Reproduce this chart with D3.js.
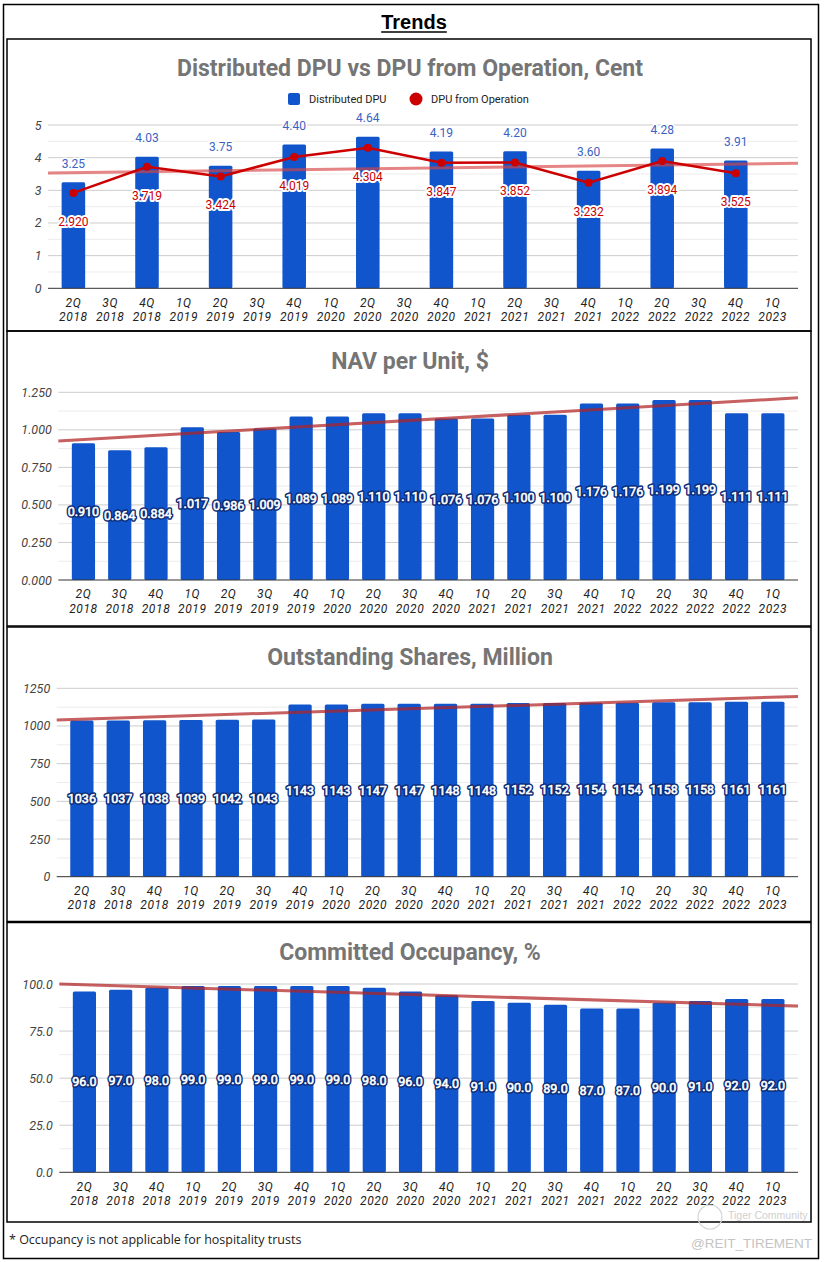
<!DOCTYPE html>
<html>
<head>
<meta charset="utf-8">
<script src="https://cdn.jsdelivr.net/npm/d3@7"></script>
<style>
  body { margin: 0; background: #fff; }
  svg { display: block; }
</style>
</head>
<body>
<script>
// quarters on the x axis, "2Q 2018" is split into two lines
const quarters = ["2Q 2018", "3Q 2018", "4Q 2018", "1Q 2019", "2Q 2019", "3Q 2019", "4Q 2019", "1Q 2020",
  "2Q 2020", "3Q 2020", "4Q 2020", "1Q 2021", "2Q 2021", "3Q 2021", "4Q 2021", "1Q 2022",
  "2Q 2022", "3Q 2022", "4Q 2022", "1Q 2023"];

// DPU is only reported every half year
const distributedDpu = [3.25, null, 4.03, null, 3.75, null, 4.40, null, 4.64, null,
  4.19, null, 4.20, null, 3.60, null, 4.28, null, 3.91, null];
const dpuFromOperation = [2.920, null, 3.719, null, 3.424, null, 4.019, null, 4.304, null,
  3.847, null, 3.852, null, 3.232, null, 3.894, null, 3.525, null];

const navPerUnit = [0.910, 0.864, 0.884, 1.017, 0.986, 1.009, 1.089, 1.089, 1.110, 1.110,
  1.076, 1.076, 1.100, 1.100, 1.176, 1.176, 1.199, 1.199, 1.111, 1.111];
const outstandingShares = [1036, 1037, 1038, 1039, 1042, 1043, 1143, 1143, 1147, 1147,
  1148, 1148, 1152, 1152, 1154, 1154, 1158, 1158, 1161, 1161];
const committedOccupancy = [96.0, 97.0, 98.0, 99.0, 99.0, 99.0, 99.0, 99.0, 98.0, 96.0,
  94.0, 91.0, 90.0, 89.0, 87.0, 87.0, 90.0, 91.0, 92.0, 92.0];

const dpuTicks = [0, 1, 2, 3, 4, 5];
const navTicks = [0, 0.25, 0.5, 0.75, 1.0, 1.25];
const shareTicks = [0, 250, 500, 750, 1000, 1250];
const occupancyTicks = [0, 25, 50, 75, 100];

const chartTitles = ["Distributed DPU vs DPU from Operation, Cent", "NAV per Unit, $",
  "Outstanding Shares, Million", "Committed Occupancy, %"];
const legendNames = ["Distributed DPU", "DPU from Operation"];

const BAR = "#1155cc";
const W = 827, H = 1262;

const svg = d3.select("body").append("svg").attr("width", W).attr("height", H);
svg.append("rect").attr("width", W).attr("height", H).attr("fill", "#fff");

// outer frame and heading
svg.append("rect").attr("x", 3.5).attr("y", 4.5).attr("width", 815).attr("height", 1254)
  .attr("fill", "none").attr("stroke", "#000").attr("stroke-width", 1.5);

let heading = svg.append("text").text("Trends")
  .attr("x", 414).attr("y", 29).attr("text-anchor", "middle")
  .style("font-family", "'Liberation Sans', Arial, sans-serif").style("font-weight", "bold")
  .style("font-size", "20px").attr("fill", "#000");
let hw = heading.node().getComputedTextLength();
svg.append("line").attr("x1", 414 - hw / 2).attr("x2", 414 + hw / 2)
  .attr("y1", 32).attr("y2", 32).attr("stroke", "#000").attr("stroke-width", 1.5);

// panel layout
let panels = [
  {title: chartTitles[0], box: [39, 331], titleY: 68, yTop: 125, yZero: 288.3, left: 48,
    domain: [0, 5], ticks: dpuTicks, tickFmt: d3.format("d"), values: distributedDpu},
  {title: chartTitles[1], box: [331, 626], titleY: 361, yTop: 392.3, yZero: 580, left: 58.3,
    domain: [0, 1.25], ticks: navTicks, tickFmt: d3.format(".3f"), values: navPerUnit, labelFmt: d3.format(".3f")},
  {title: chartTitles[2], box: [627, 921.5], titleY: 657, yTop: 688.3, yZero: 876.7, left: 56.7,
    domain: [0, 1250], ticks: shareTicks, tickFmt: d3.format("d"), values: outstandingShares, labelFmt: d3.format("d")},
  {title: chartTitles[3], box: [922.5, 1222], titleY: 952, yTop: 984, yZero: 1172.3, left: 59.3,
    domain: [0, 100], ticks: occupancyTicks, tickFmt: d3.format(".1f"), values: committedOccupancy, labelFmt: d3.format(".1f")},
];
const RIGHT = 798;

function regression(values) {
  let pts = values.map((v, i) => [i, v]).filter((p) => p[1] != null);
  let mx = d3.mean(pts, (p) => p[0]);
  let my = d3.mean(pts, (p) => p[1]);
  let sxy = d3.sum(pts, (p) => (p[0] - mx) * (p[1] - my));
  let sxx = d3.sum(pts, (p) => (p[0] - mx) * (p[0] - mx));
  let slope = sxy / sxx;
  return (i) => my + slope * (i - mx);
}

function haloText(g, x, y, txt, fill, halo, width, size) {
  g.append("text").text(txt).attr("x", x).attr("y", y)
    .attr("text-anchor", "middle").attr("dominant-baseline", "central")
    .style("font-family", "Roboto, sans-serif").style("font-size", size)
    .attr("fill", fill).attr("stroke", halo).attr("stroke-width", width)
    .attr("stroke-linejoin", "round").style("paint-order", "stroke");
}

function insideLabel(g, x, y, txt) {
  // white label with dark blue ring, like the sheet's data labels
  let t = (stroke, sw, fill) => g.append("text").text(txt).attr("x", x).attr("y", y)
    .attr("text-anchor", "middle").attr("dominant-baseline", "central")
    .style("font-family", "Roboto, sans-serif").style("font-size", "12.5px")
    .attr("fill", fill).attr("stroke", stroke).attr("stroke-width", sw).attr("stroke-linejoin", "round");
  t("#0b2c78", 3.6, "#0b2c78");
  t("#fff", 0.6, "#fff");
}

panels.forEach((p, k) => {
  let g = svg.append("g");

  g.append("rect").attr("x", 7).attr("y", p.box[0]).attr("width", 804).attr("height", p.box[1] - p.box[0])
    .attr("fill", "none").attr("stroke", "#000").attr("stroke-width", 1.5);

  g.append("text").text(p.title).attr("x", 410).attr("y", p.titleY)
    .attr("text-anchor", "middle").attr("dominant-baseline", "central")
    .style("font-family", "Roboto, sans-serif").style("font-weight", "bold").style("font-size", "23px")
    .attr("fill", "#757575");

  let x = d3.scaleBand().domain(quarters).range([p.left + 7, RIGHT - 7])
    .paddingInner(0.36).paddingOuter(0.18);
  let y = d3.scaleLinear().domain(p.domain).range([p.yZero, p.yTop]);

  // gridlines, minor lines halfway between ticks
  let minor = d3.pairs(p.ticks).map((d) => (d[0] + d[1]) / 2);
  g.selectAll(null).data(minor).join("line")
    .attr("x1", p.left).attr("x2", RIGHT).attr("y1", (d) => y(d)).attr("y2", (d) => y(d))
    .attr("stroke", "#ececec");
  g.selectAll(null).data(p.ticks.slice(1)).join("line")
    .attr("x1", p.left).attr("x2", RIGHT).attr("y1", (d) => y(d)).attr("y2", (d) => y(d))
    .attr("stroke", "#cccccc");

  // y axis labels
  let yAxis = g.append("g").attr("transform", `translate(${p.left},0)`)
    .call(d3.axisLeft(y).tickValues(p.ticks).tickFormat(p.tickFmt).tickSize(0).tickPadding(6.5));
  yAxis.select(".domain").remove();
  yAxis.selectAll("text").style("font-family", "Roboto, sans-serif").style("font-style", "italic")
    .style("font-size", "12.5px").attr("fill", "#444");

  // bars
  let bars = quarters.map((q, i) => ({q: q, v: p.values[i]})).filter((d) => d.v != null);
  g.selectAll(null).data(bars).join("rect")
    .attr("x", (d) => x(d.q)).attr("width", x.bandwidth())
    .attr("y", (d) => y(d.v)).attr("height", (d) => y(0) - y(d.v))
    .attr("rx", 1.5).attr("fill", BAR);

  // baseline
  g.append("line").attr("x1", p.left).attr("x2", RIGHT).attr("y1", y(0)).attr("y2", y(0))
    .attr("stroke", "#333").attr("stroke-width", 1);

  // x axis labels in two lines
  let xAxis = g.append("g").attr("transform", `translate(0,${y(0)})`)
    .call(d3.axisBottom(x).tickSize(0).tickFormat(""));
  xAxis.select(".domain").remove();
  xAxis.selectAll(".tick").each(function (q) {
    let parts = q.split(" ");
    let t = d3.select(this).append("text").attr("fill", "#222")
      .style("font-family", "Roboto, sans-serif").style("font-style", "italic").style("font-size", "12px")
      .style("letter-spacing", "0.6px").attr("text-anchor", "middle");
    t.append("tspan").attr("x", 0).attr("y", 18.3).text(parts[0]);
    t.append("tspan").attr("x", 0).attr("y", 32.8).text(parts[1]);
  });

  let c0 = x(quarters[0]) + x.bandwidth() / 2;
  let step = x.step();
  let toIndex = (px) => (px - c0) / step;

  if (k === 0) {
    // trend of DPU from Operation
    let f = regression(dpuFromOperation);
    g.append("line").attr("x1", p.left).attr("x2", RIGHT)
      .attr("y1", y(f(toIndex(p.left)))).attr("y2", y(f(toIndex(RIGHT))))
      .attr("stroke", "#d84343").attr("stroke-opacity", 0.65).attr("stroke-width", 3);

    let pts = quarters.map((q, i) => ({q: q, v: dpuFromOperation[i]})).filter((d) => d.v != null);
    let line = d3.line().x((d) => x(d.q) + x.bandwidth() / 2).y((d) => y(d.v));
    g.append("path").datum(pts).attr("d", line).attr("fill", "none")
      .attr("stroke", "#cc0000").attr("stroke-width", 2.5);
    g.selectAll(null).data(pts).join("circle")
      .attr("cx", (d) => x(d.q) + x.bandwidth() / 2).attr("cy", (d) => y(d.v)).attr("r", 4)
      .attr("fill", "#cc0000");

    bars.forEach((d) => {
      haloText(g, x(d.q) + x.bandwidth() / 2, y(d.v) - 18.5, d3.format(".2f")(d.v), "#3a62c4", "#fff", 3, "12px");
    });
    pts.forEach((d) => {
      haloText(g, x(d.q) + x.bandwidth() / 2, y(d.v) + 29, d3.format(".3f")(d.v), "#cc0000", "#fff", 4, "12px");
    });

    // legend
    g.append("rect").attr("x", 288).attr("y", 93).attr("width", 12).attr("height", 12).attr("rx", 2)
      .attr("fill", BAR);
    g.append("circle").attr("cx", 416).attr("cy", 99).attr("r", 6.5).attr("fill", "#cc0000");
    [[309, legendNames[0]], [431, legendNames[1]]].forEach((l) => {
      g.append("text").text(l[1]).attr("x", l[0]).attr("y", 99).attr("dominant-baseline", "central")
        .style("font-family", "Roboto, sans-serif").style("font-size", "11px").attr("fill", "#222");
    });
  } else {
    bars.forEach((d) => {
      insideLabel(g, x(d.q) + x.bandwidth() / 2, (y(d.v) + y(0)) / 2, p.labelFmt(d.v));
    });
    let f = regression(p.values);
    g.append("line").attr("x1", p.left).attr("x2", RIGHT)
      .attr("y1", y(f(toIndex(p.left)))).attr("y2", y(f(toIndex(RIGHT))))
      .attr("stroke", "#b22222").attr("stroke-opacity", 0.72).attr("stroke-width", 3);
  }
});

// footnote and watermark
svg.append("text").text("* Occupancy is not applicable for hospitality trusts")
  .attr("x", 9).attr("y", 1244)
  .style("font-family", "'Open Sans', sans-serif").style("font-size", "12.5px").attr("fill", "#222");

svg.append("circle").attr("cx", 710).attr("cy", 1217).attr("r", 12)
  .attr("fill", "none").attr("stroke", "#d5d5d5").attr("stroke-width", 1.2);
svg.append("text").text("Tiger Community").attr("x", 728).attr("y", 1219)
  .style("font-family", "'Liberation Sans', sans-serif").style("font-size", "10.5px").attr("fill", "#d0d0d0");
svg.append("text").text("@REIT_TIREMENT").attr("x", 812).attr("y", 1248).attr("text-anchor", "end")
  .style("font-family", "'Liberation Sans', sans-serif").style("font-size", "13.5px").attr("fill", "#c4c4c4");
</script>
</body>
</html>
